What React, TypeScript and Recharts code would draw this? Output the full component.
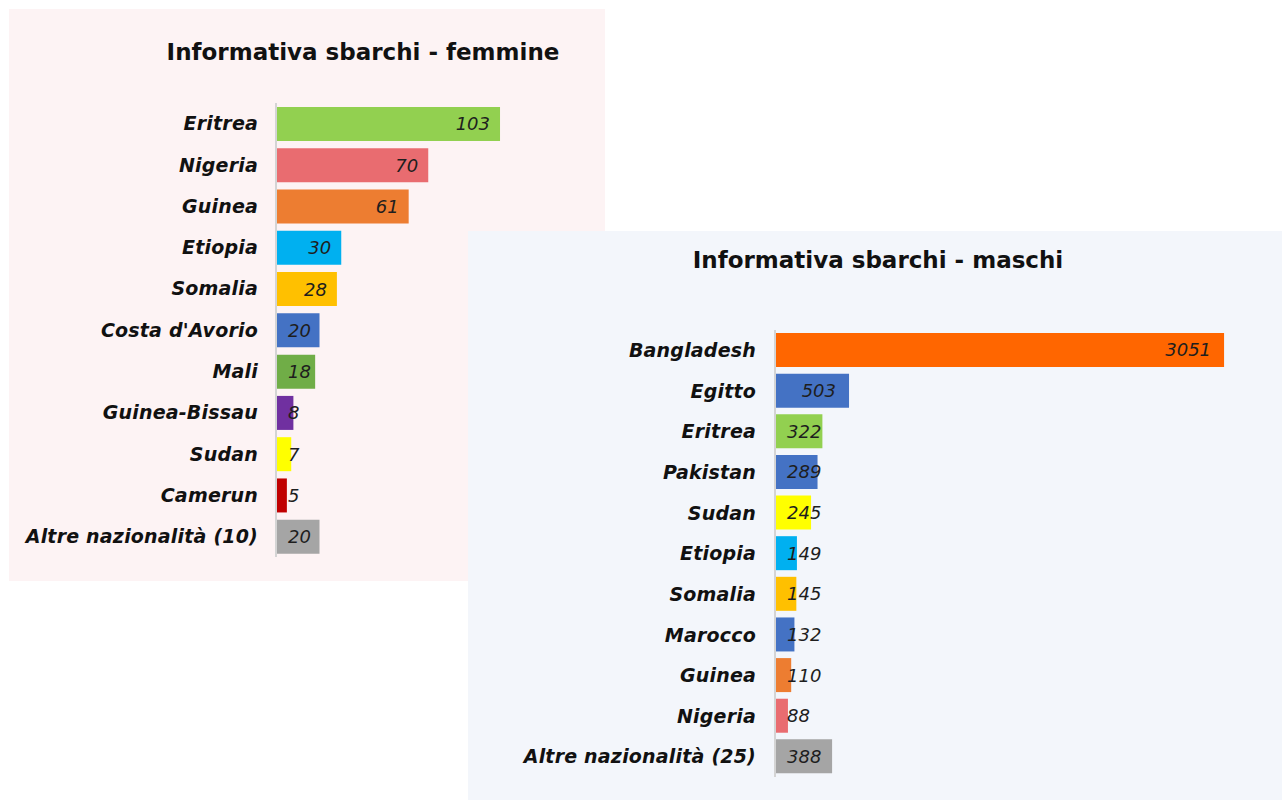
import React from "react";
import { BarChart, Bar, XAxis, YAxis, Cell, LabelList } from "recharts";

// ---- Data ----
const femCategories = [
  "Eritrea",
  "Nigeria",
  "Guinea",
  "Etiopia",
  "Somalia",
  "Costa d'Avorio",
  "Mali",
  "Guinea-Bissau",
  "Sudan",
  "Camerun",
  "Altre nazionalità (10)",
];
const femValues = [103, 70, 61, 30, 28, 20, 18, 8, 7, 5, 20];
const femColors = [
  "#92d050",
  "#e96c70",
  "#ed7d31",
  "#00b0f0",
  "#ffc000",
  "#4472c4",
  "#70ad47",
  "#7030a0",
  "#ffff00",
  "#c00000",
  "#a5a5a5",
];

const maleCategories = [
  "Bangladesh",
  "Egitto",
  "Eritrea",
  "Pakistan",
  "Sudan",
  "Etiopia",
  "Somalia",
  "Marocco",
  "Guinea",
  "Nigeria",
  "Altre nazionalità (25)",
];
const maleValues = [3051, 503, 322, 289, 245, 149, 145, 132, 110, 88, 388];
const maleColors = [
  "#ff6600",
  "#4472c4",
  "#92d050",
  "#4472c4",
  "#ffff00",
  "#00b0f0",
  "#ffc000",
  "#4472c4",
  "#ed7d31",
  "#e96c70",
  "#a5a5a5",
];

const femTitle = "Informativa sbarchi - femmine";
const maleTitle = "Informativa sbarchi - maschi";

const FONT = "'DejaVu Sans', Verdana, sans-serif";

const femData = femCategories.map((name, i) => ({ name, value: femValues[i] }));
const maleData = maleCategories.map((name, i) => ({ name, value: maleValues[i] }));

const makeLabel = (pad: number, minGap: number) => (props: any) => {
  const { x, y, width, height, value } = props;
  const w = String(value).length * 11.45;
  const right = Math.max(x + width - pad, x + minGap + w);
  return (
    <text
      x={right}
      y={y + height / 2}
      dy="0.36em"
      textAnchor="end"
      fontStyle="italic"
      fontSize={18}
      fontFamily={FONT}
      fill="#1e1e1e"
    >
      {value}
    </text>
  );
};

const tickStyle = {
  fontSize: 19,
  fontWeight: 700,
  fontStyle: "italic",
  fill: "#111",
  fontFamily: FONT,
  letterSpacing: 0.2,
};

export default function App() {
  return (
    <div
      style={{
        position: "absolute",
        left: 0,
        top: 0,
        width: 1282,
        height: 800,
        background: "#ffffff",
        fontFamily: FONT,
      }}
    >
      {/* Female panel */}
      <div
        style={{
          position: "absolute",
          left: 9,
          top: 9,
          width: 596,
          height: 572,
          background: "#fdf3f4",
        }}
      >
        <BarChart
          width={596}
          height={572}
          data={femData}
          layout="vertical"
          margin={{ top: 94, right: 68, bottom: 24, left: 0 }}
          barCategoryGap={0}
        >
          <XAxis type="number" domain={[0, 120]} hide />
          <YAxis
            type="category"
            dataKey="name"
            width={267}
            interval={0}
            tickLine={false}
            tickSize={6}
            tickMargin={12}
            axisLine={{ stroke: "#d4d4d4", strokeWidth: 2 }}
            tick={tickStyle}
          />
          <Bar dataKey="value" barSize={34} isAnimationActive={false}>
            {femData.map((d, i) => (
              <Cell key={d.name} fill={femColors[i]} />
            ))}
            <LabelList dataKey="value" content={makeLabel(10, 12)} />
          </Bar>
        </BarChart>
      </div>
      <div
        style={{
          position: "absolute",
          left: 63,
          top: 41,
          width: 600,
          textAlign: "center",
          fontSize: 23,
          lineHeight: "23px",
          fontWeight: 700,
          color: "#111",
        }}
      >
        {femTitle}
      </div>

      {/* Male panel */}
      <div
        style={{
          position: "absolute",
          left: 468,
          top: 231,
          width: 814,
          height: 569,
          background: "#f3f6fb",
        }}
      >
        <BarChart
          width={814}
          height={569}
          data={maleData}
          layout="vertical"
          margin={{ top: 99, right: 36, bottom: 23, left: 0 }}
          barCategoryGap={0}
        >
          <XAxis type="number" domain={[0, 3200]} hide />
          <YAxis
            type="category"
            dataKey="name"
            width={307}
            interval={0}
            tickLine={false}
            tickSize={6}
            tickMargin={13}
            axisLine={{ stroke: "#d4d4d4", strokeWidth: 2 }}
            tick={tickStyle}
          />
          <Bar dataKey="value" barSize={34} isAnimationActive={false}>
            {maleData.map((d, i) => (
              <Cell key={d.name} fill={maleColors[i]} />
            ))}
            <LabelList dataKey="value" content={makeLabel(13, 12)} />
          </Bar>
        </BarChart>
      </div>
      <div
        style={{
          position: "absolute",
          left: 578,
          top: 249,
          width: 600,
          textAlign: "center",
          fontSize: 23,
          lineHeight: "23px",
          fontWeight: 700,
          color: "#111",
        }}
      >
        {maleTitle}
      </div>
    </div>
  );
}
